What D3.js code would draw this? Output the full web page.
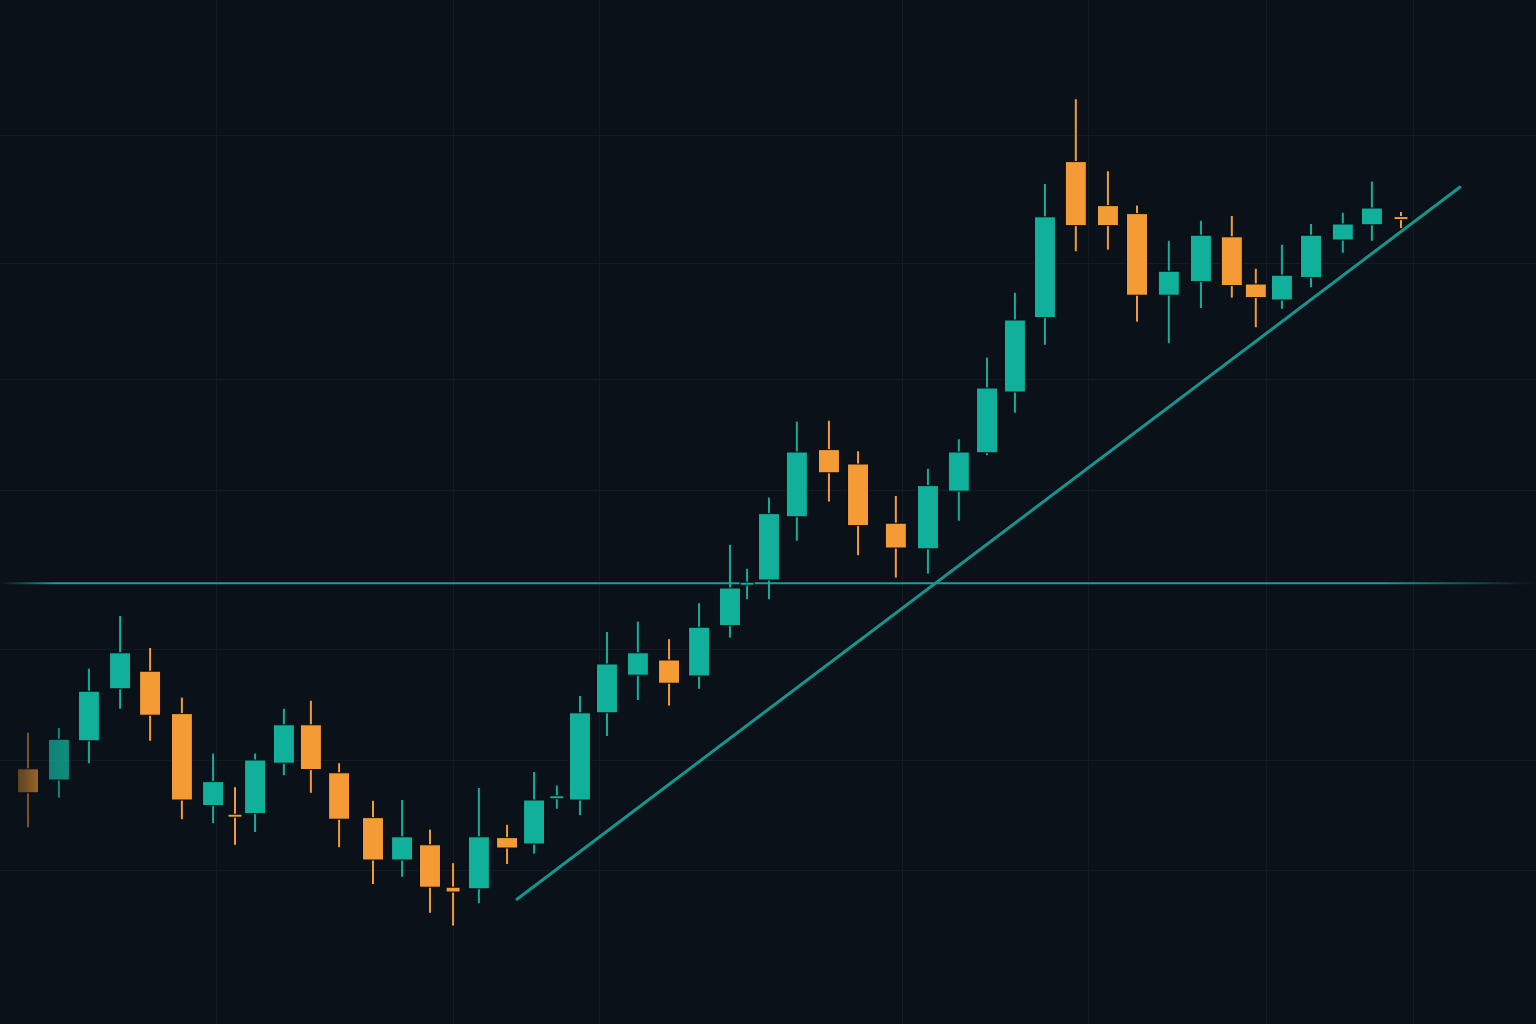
<!DOCTYPE html>
<html>
<head>
<meta charset="utf-8">
<script src="https://cdn.jsdelivr.net/npm/d3@7/dist/d3.min.js"></script>
<style>
  html, body { margin: 0; padding: 0; background: #0b1119; overflow: hidden; }
  svg { display: block; }
</style>
</head>
<body>
<script>
// ---- data ----
const times = [0,1.03,2.03,3.07,4.07,5.13,6.17,6.9,7.57,8.53,9.43,10.37,11.5,12.47,13.4,14.17,15.03,15.97,16.87,17.63,18.4,19.3,20.33,21.37,22.37,23.4,23.97,24.7,25.63,26.7,27.67,28.93,30,31.03,31.97,32.9,33.9,34.93,36,36.97,38.03,39.1,40.13,40.93,41.8,42.77,43.83,44.8,45.77];
const open  = [131.9,130.5,135.4,141.9,144.1,138.8,127.3,126.1,126.3,132.6,137.4,131.4,125.8,120.5,122.4,117.1,116.9,123.3,122.5,128.1,128,138.9,143.6,145.5,143.5,149.8,154.9,155.5,163.4,171.8,170,162.6,159.4,166.6,171.4,179,188.3,207.8,202.3,201.3,191.1,192.8,198.4,192.5,190.5,193.3,198,199.9,200.8];
const high  = [136.4,137,144.4,151,147,140.8,133.8,129.6,133.8,139.4,140.4,132.6,127.9,128,124.3,120.1,129.5,124.9,131.5,129.8,141,149,150.3,148.1,152.6,159.9,156.9,165.8,175.3,175.4,171.6,166,169.4,173.1,183.3,191.4,205,215.6,206.6,202.3,197.9,200.4,201,194.4,197.4,200,201.4,205.3,201.5];
const low   = [124.6,128.3,132.6,139.4,135.4,125.6,125.1,122.4,124,131.1,128.9,122.1,117.5,118.4,113.9,112.3,115.1,120,121.3,126.9,126.1,136,140.5,139.8,141.9,148.3,153.1,153.1,160.4,165.3,158.6,155.8,156.3,162.9,171.1,176.4,184.9,196.6,196.8,187.8,185.1,189.5,190.8,187.1,189.4,192.1,196.4,197.9,199.5];
const close = [128.9,135.6,141.6,146.4,138.6,128,130.3,125.8,133,137.4,131.8,125.6,120.5,123.4,117.1,116.5,123.4,122,128,128.4,138.9,145,146.4,142.6,149.6,154.5,155.1,163.8,171.5,168.9,162.3,159.5,167.3,171.5,179.5,188,200.9,199.8,199.8,191.1,194.1,198.6,192.3,190.8,193.6,198.6,200,202,200.5];

const gridTimes  = [6.27,14.17,19.03,29.13,35.33,41.27,46.17];
const gridPrices = [211.1,195.1,180.6,166.75,146.9,133,119.25];
const resistanceLevel = 155.1;
const trendTimes  = [16.3, 47.73];
const trendPrices = [115.6, 204.6];

// ---- layout ----
const W = 1536, H = 1024;
const x = d3.scaleLinear().domain([0, 45.77]).range([28, 1401]);
const y = d3.scaleLinear().domain([100, 228]).range([H, 0]);

const UP = "#10b09a", DOWN = "#f59b36";

const candles = times.map((t, i) => ({t, o: open[i], h: high[i], l: low[i], c: close[i]}));

const svg = d3.select("body").append("svg").attr("width", W).attr("height", H);
svg.append("rect").attr("width", W).attr("height", H).attr("fill", "#0b1119");

const defs = svg.append("defs");
const lg = defs.append("linearGradient").attr("id", "hfade")
  .attr("gradientUnits", "userSpaceOnUse").attr("x1", 0).attr("x2", W).attr("y1", 0).attr("y2", 0);
[[0,0],[0.035,1],[0.9,1],[1,0]].forEach(([o, a]) =>
  lg.append("stop").attr("offset", o).attr("stop-color", "#1a9e97").attr("stop-opacity", a));

const mg = defs.append("linearGradient").attr("id", "leftfade")
  .attr("gradientUnits", "userSpaceOnUse").attr("x1", 0).attr("x2", 80).attr("y1", 0).attr("y2", 0);
[[0,0.25],[0.3,0.42],[0.55,0.7],[0.85,0.78],[1,1]].forEach(([o, a]) =>
  mg.append("stop").attr("offset", o).attr("stop-color", "#fff").attr("stop-opacity", a));
defs.append("mask").attr("id", "lmask").attr("maskUnits", "userSpaceOnUse")
  .attr("x", 0).attr("y", 0).attr("width", W).attr("height", H)
  .append("rect").attr("width", W).attr("height", H).attr("fill", "url(#leftfade)");

// grid
const grid = svg.append("g").attr("stroke", "#131b25").attr("stroke-width", 1);
grid.selectAll("line.v").data(gridTimes).join("line")
  .attr("x1", d => Math.round(x(d)) + 0.5).attr("x2", d => Math.round(x(d)) + 0.5)
  .attr("y1", 0).attr("y2", H);
grid.selectAll("line.h").data(gridPrices).join("line")
  .attr("x1", 0).attr("x2", W)
  .attr("y1", d => Math.round(y(d)) + 0.5).attr("y2", d => Math.round(y(d)) + 0.5);

// horizontal level
svg.append("line")
  .attr("x1", 0).attr("x2", W)
  .attr("y1", y(resistanceLevel)).attr("y2", y(resistanceLevel))
  .attr("stroke", "url(#hfade)").attr("stroke-width", 2);

// candles
const isDoji = d => Math.abs(d.o - d.c) < 0.7;
const cg = svg.append("g").attr("mask", "url(#lmask)");
const g = cg.selectAll("g.candle").data(candles).join("g").attr("class", "candle");
g.append("line")
  .attr("x1", d => x(d.t)).attr("x2", d => x(d.t))
  .attr("y1", d => y(d.h)).attr("y2", d => y(d.l))
  .attr("stroke", d => d.c >= d.o ? UP : DOWN).attr("stroke-width", 2);
g.append("rect")
  .attr("x", d => x(d.t) - (isDoji(d) ? 7 : 10.5))
  .attr("width", d => isDoji(d) ? 14 : 21)
  .attr("y", d => Math.min(y(d.o), y(d.c)) - (Math.abs(y(d.o) - y(d.c)) < 3 ? 1 : 0))
  .attr("height", d => Math.max(3, Math.abs(y(d.o) - y(d.c))))
  .attr("fill", d => d.c >= d.o ? UP : DOWN)
  .attr("stroke", "#080c12").attr("stroke-width", 1);

// trend line
svg.append("line")
  .attr("x1", x(trendTimes[0])).attr("y1", y(trendPrices[0]))
  .attr("x2", x(trendTimes[1])).attr("y2", y(trendPrices[1]))
  .attr("stroke", "#14968f").attr("stroke-width", 3).attr("stroke-linecap", "round");
</script>
</body>
</html>
